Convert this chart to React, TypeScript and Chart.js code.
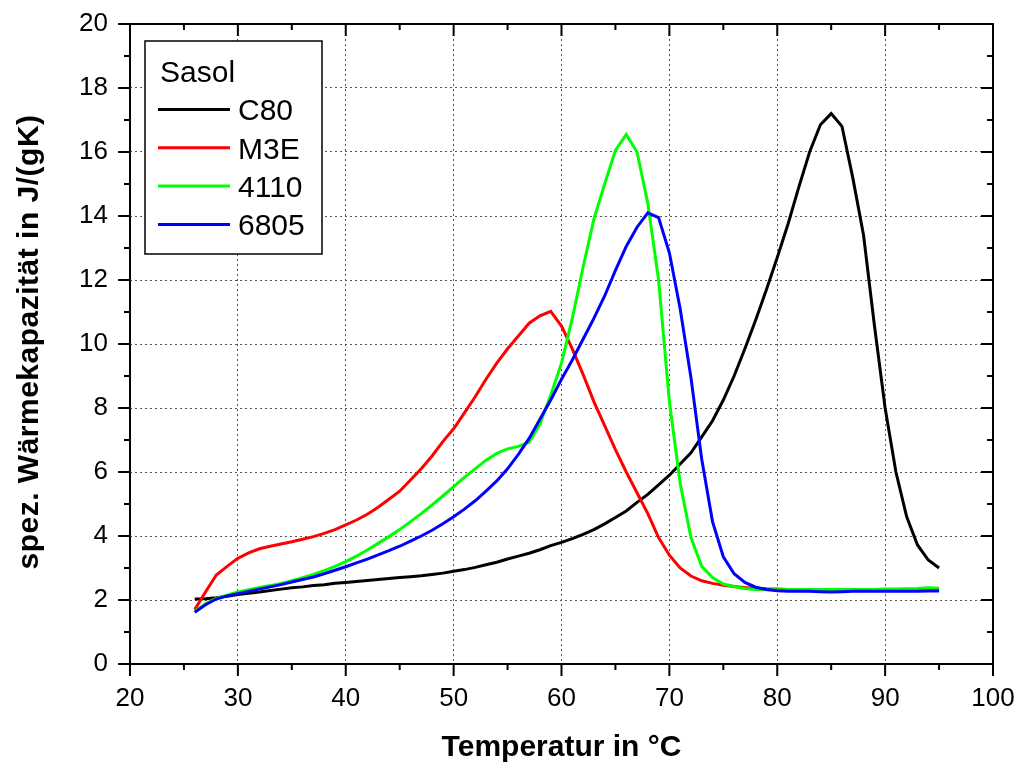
import React, { useEffect, useRef } from "react";
import { Chart, registerables } from "chart.js";

Chart.register(...registerables);

const temperatures = [
  26, 27, 28, 29, 30, 31, 32, 33, 34, 35, 36, 37, 38, 39, 40, 41, 42, 43, 44, 45,
  46, 47, 48, 49, 50, 51, 52, 53, 54, 55, 56, 57, 58, 59, 60, 61, 62, 63, 64, 65,
  66, 67, 68, 69, 70, 71, 72, 73, 74, 75, 76, 77, 78, 79, 80, 81, 82, 83, 84, 85,
  86, 87, 88, 89, 90, 91, 92, 93, 94, 95,
];

const seriesC80 = [
  2.03, 2.04, 2.07, 2.12, 2.17, 2.21, 2.25, 2.3, 2.34, 2.38, 2.41, 2.45, 2.48, 2.52, 2.55, 2.58, 2.61, 2.64, 2.67, 2.7,
  2.73, 2.76, 2.8, 2.84, 2.9, 2.95, 3.02, 3.1, 3.18, 3.28, 3.37, 3.46, 3.57, 3.7, 3.8, 3.92, 4.05, 4.2, 4.38, 4.58,
  4.78, 5.05, 5.3, 5.6, 5.9, 6.25, 6.6, 7.1, 7.6, 8.25, 9.0, 9.85, 10.75, 11.7, 12.7, 13.75, 14.9, 16.0, 16.85, 17.2,
  16.8, 15.2, 13.4, 10.6, 8.0, 6.0, 4.6, 3.72, 3.25, 3.0,
];

const seriesM3E = [
  1.7, 2.25, 2.78, 3.05, 3.3, 3.47, 3.6, 3.68, 3.75, 3.82, 3.9, 3.98, 4.08, 4.2, 4.35, 4.5, 4.68, 4.9, 5.15, 5.4,
  5.75, 6.1, 6.5, 6.95, 7.35, 7.85, 8.35, 8.9, 9.4, 9.85, 10.25, 10.65, 10.88, 11.02, 10.56, 9.85, 9.05, 8.2, 7.45, 6.7,
  6.0, 5.35, 4.7, 3.95, 3.4, 3.0, 2.75, 2.6, 2.52, 2.46, 2.42, 2.39, 2.37, 2.35, 2.34, 2.33, 2.33, 2.32, 2.32, 2.32,
  2.31, 2.31, 2.31, 2.31, 2.3, 2.3, 2.3, 2.3, 2.3, 2.3,
];

const series4110 = [
  1.65, 1.88, 2.05, 2.15, 2.25, 2.32, 2.39, 2.45, 2.52, 2.6, 2.7, 2.8, 2.92, 3.05, 3.2, 3.37, 3.56, 3.77, 3.98, 4.2,
  4.45, 4.7, 4.97, 5.25, 5.54, 5.83, 6.1, 6.37, 6.58, 6.72, 6.8, 6.93, 7.5, 8.4, 9.4, 10.8, 12.4, 13.9, 15.0, 16.05,
  16.55, 16.0, 14.4, 12.0, 8.2, 5.65, 3.95, 3.05, 2.7, 2.5, 2.42, 2.36, 2.33, 2.32, 2.32, 2.33, 2.33, 2.33, 2.33, 2.33,
  2.33, 2.33, 2.33, 2.33, 2.34, 2.34, 2.35, 2.36, 2.38, 2.37,
];

const series6805 = [
  1.62, 1.85, 2.03, 2.13, 2.2, 2.27, 2.34, 2.41, 2.48, 2.56, 2.64, 2.72, 2.82, 2.93, 3.04, 3.16, 3.28, 3.41, 3.54, 3.68,
  3.84, 4.0, 4.18, 4.38, 4.6, 4.84, 5.1, 5.4, 5.72, 6.1, 6.55, 7.05, 7.65, 8.25, 8.9, 9.5, 10.15, 10.8, 11.5, 12.3,
  13.05, 13.65, 14.1, 13.95, 12.85, 11.1, 8.95, 6.4, 4.45, 3.35, 2.82, 2.55, 2.4, 2.33, 2.29, 2.27, 2.27, 2.27, 2.26, 2.25,
  2.26, 2.27, 2.27, 2.27, 2.27, 2.27, 2.27, 2.27, 2.28, 2.28,
];

const seriesNames = ["C80", "M3E", "4110", "6805"];
const seriesColors = ["#000000", "#ff0000", "#00ff00", "#0000ff"];
const legendTitle = "Sasol";
const xTitle = "Temperatur in °C";
const yTitle = "spez. Wärmekapazität in J/(gK)";
const xMajorTicks = [20, 30, 40, 50, 60, 70, 80, 90, 100];
const xMinorTicks = [25, 35, 45, 55, 65, 75, 85, 95];
const yMajorTicks = [0, 2, 4, 6, 8, 10, 12, 14, 16, 18, 20];
const yMinorTicks = [1, 3, 5, 7, 9, 11, 13, 15, 17, 19];

const FONT = "'Liberation Sans', Arial, Helvetica, sans-serif";

const framePlugin = {
  id: "originFrame",
  afterDraw(chart: any) {
    const { ctx, chartArea, scales } = chart;
    const xs = scales.x;
    const ys = scales.y;
    const { left, right, top, bottom } = chartArea;
    ctx.save();
    ctx.strokeStyle = "#000";
    ctx.lineWidth = 2;
    ctx.lineCap = "butt";
    ctx.strokeRect(left, top, right - left, bottom - top);
    ctx.beginPath();
    const major = 12;
    const minor = 6;
    xMajorTicks.forEach((v) => {
      const px = xs.getPixelForValue(v);
      ctx.moveTo(px, bottom);
      ctx.lineTo(px, bottom + major);
      ctx.moveTo(px, top);
      ctx.lineTo(px, top + major);
    });
    xMinorTicks.forEach((v) => {
      const px = xs.getPixelForValue(v);
      ctx.moveTo(px, bottom);
      ctx.lineTo(px, bottom + minor);
      ctx.moveTo(px, top);
      ctx.lineTo(px, top + minor);
    });
    yMajorTicks.forEach((v) => {
      const py = ys.getPixelForValue(v);
      ctx.moveTo(left, py);
      ctx.lineTo(left - major, py);
      ctx.moveTo(right, py);
      ctx.lineTo(right - major, py);
    });
    yMinorTicks.forEach((v) => {
      const py = ys.getPixelForValue(v);
      ctx.moveTo(left, py);
      ctx.lineTo(left - minor, py);
      ctx.moveTo(right, py);
      ctx.lineTo(right - minor, py);
    });
    ctx.stroke();

    // legend box
    const bx = 145, by = 41, bw = 177, bh = 213;
    ctx.fillStyle = "#fff";
    ctx.fillRect(bx, by, bw, bh);
    ctx.lineWidth = 1.5;
    ctx.strokeStyle = "#000";
    ctx.strokeRect(bx, by, bw, bh);
    ctx.fillStyle = "#000";
    ctx.font = `30px ${FONT}`;
    ctx.textAlign = "left";
    ctx.textBaseline = "alphabetic";
    ctx.fillText(legendTitle, 160, 82);
    seriesNames.forEach((name, i) => {
      const ly = 109.5 + i * 38.3;
      ctx.strokeStyle = seriesColors[i];
      ctx.lineWidth = 3;
      ctx.beginPath();
      ctx.moveTo(158, ly);
      ctx.lineTo(230, ly);
      ctx.stroke();
      ctx.fillStyle = "#000";
      ctx.fillText(name, 238, ly + 10.7);
    });

    // axis titles
    ctx.font = `bold 30px ${FONT}`;
    ctx.textAlign = "center";
    ctx.textBaseline = "alphabetic";
    ctx.fillText(xTitle, (left + right) / 2, 756);
    ctx.translate(38, (top + bottom) / 2 - 2);
    ctx.rotate(-Math.PI / 2);
    try {
      (ctx as any).letterSpacing = "0.5px";
    } catch (e) {}
    ctx.fillText(yTitle, 0, 0);
    ctx.restore();
  },
};

export default function App() {
  const canvasRef = useRef<HTMLCanvasElement | null>(null);

  useEffect(() => {
    document.body.style.margin = "0";
    const canvas = canvasRef.current;
    if (!canvas) return;
    const allSeries = [seriesC80, seriesM3E, series4110, series6805];
    const chart = new Chart(canvas, {
      type: "line",
      data: {
        datasets: allSeries.map((s, i) => ({
          label: seriesNames[i],
          data: temperatures.map((t, j) => ({ x: t, y: s[j] })),
          borderColor: seriesColors[i],
          backgroundColor: seriesColors[i],
          borderWidth: 3,
          pointRadius: 0,
          tension: 0,
          fill: false,
          order: 4 - i,
        })),
      },
      options: {
        responsive: false,
        animation: false,
        devicePixelRatio: 1,
        layout: { autoPadding: false, padding: { top: 24, right: 29, left: 0, bottom: 0 } },
        plugins: {
          legend: { display: false },
          tooltip: { enabled: false },
        },
        scales: {
          x: {
            type: "linear",
            min: 20,
            max: 100,
            afterFit: (scale: any) => {
              scale.height = 101;
              scale.paddingLeft = 0;
              scale.paddingRight = 0;
            },
            ticks: {
              stepSize: 10,
              color: "#000",
              font: { size: 26, family: FONT },
              padding: 19,
              maxRotation: 0,
            },
            grid: {
              color: "#555",
              lineWidth: 1,
              drawTicks: false,
            },
            border: { display: false, dash: [2, 3] },
          },
          y: {
            type: "linear",
            min: 0,
            max: 20,
            afterFit: (scale: any) => {
              scale.width = 130;
              scale.paddingTop = 0;
              scale.paddingBottom = 0;
            },
            ticks: {
              stepSize: 2,
              color: "#000",
              font: { size: 26, family: FONT },
              padding: 22,
            },
            grid: {
              color: "#555",
              lineWidth: 1,
              drawTicks: false,
            },
            border: { display: false, dash: [2, 3] },
          },
        },
      },
      plugins: [framePlugin],
    });
    return () => chart.destroy();
  }, []);

  return (
    <div style={{ width: 1022, height: 765 }}>
      <canvas ref={canvasRef} width={1022} height={765} />
    </div>
  );
}
